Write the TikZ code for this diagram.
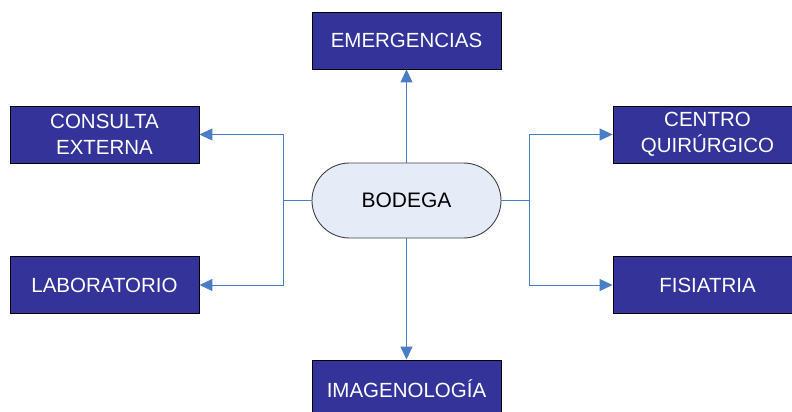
\documentclass[tikz,border=0pt]{standalone}
\usepackage{fontspec}
\setmainfont{Liberation Sans}
\usetikzlibrary{arrows.meta,shapes.misc}
\definecolor{boxblue}{HTML}{333399}
\definecolor{pillfill}{HTML}{E6ECF7}
\definecolor{linkblue}{HTML}{4A7EC4}
\begin{document}
\begin{tikzpicture}[x=1pt,y=-1pt,
  unit/.style={draw=black,line width=0.9pt,fill=boxblue,text=white,
    minimum width=189pt,minimum height=57pt,inner sep=0pt,align=center,
    font=\fontsize{20.5}{25.5}\selectfont},
  hub/.style={draw=black!75,line width=0.9pt,fill=pillfill,rounded rectangle,
    minimum width=189pt,minimum height=75pt,inner sep=0pt,
    font=\fontsize{21}{24}\selectfont},
  link/.style={draw=linkblue,line width=1pt},
  linkarrow/.style={link,-{Triangle[length=13pt,width=12pt]}}]
\useasboundingbox (0,0) rectangle (792,412);
\clip (0,0) rectangle (792,412);
\node[hub] (bod) at (406.5,200.5) {BODEGA};
\node[unit] (eme) at (406.5,40.5) {EMERGENCIAS};
\node[unit] (ima) at (406.5,388.5) {IMAGENOLOGÍA};
\node[unit] (con) at (104.5,134.5) {CONSULTA\\EXTERNA};
\node[unit] (lab) at (104.5,285) {LABORATORIO};
\node[unit] (cen) at (707.5,134.5) {CENTRO\\QUIRÚRGICO};
\node[unit] (fis) at (707.5,285) {FISIATRIA};
\coordinate (jl) at (283.5,200.5);
\coordinate (jr) at (529.5,200.5);
\draw[linkarrow] (bod.north) -- (eme.south);
\draw[linkarrow] (bod.south) -- (ima.north);
\draw[link] (bod.west) -- (jl);
\draw[link] (bod.east) -- (jr);
\draw[linkarrow] (jl) |- (con.east);
\draw[linkarrow] (jl) |- (lab.east);
\draw[linkarrow] (jr) |- (cen.west);
\draw[linkarrow] (jr) |- (fis.west);
\end{tikzpicture}
\end{document}
